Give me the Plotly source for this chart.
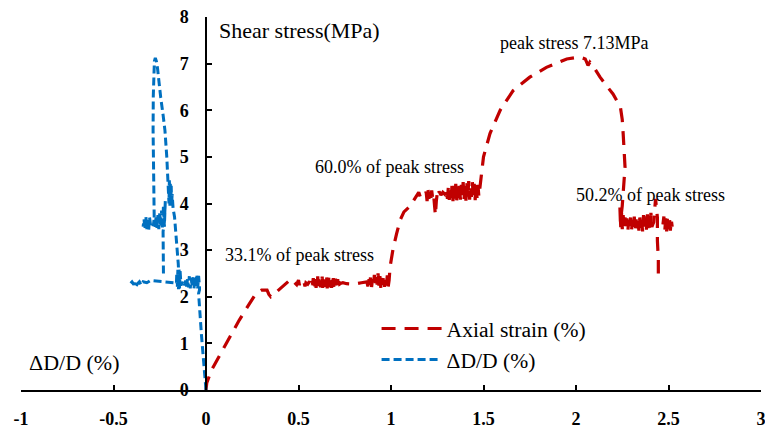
import plotly.graph_objects as go

# ---------------- data ----------------
# Red: shear stress vs axial strain (%), segments joined (None = break)
red_rise1 = [(0, 0), (0.004, 0.15), (0.03, 0.43), (0.07, 0.72), (0.11, 1.00), (0.15, 1.28), (0.18, 1.50),
             (0.23, 1.82), (0.27, 2.07), (0.30, 2.14), (0.33, 2.14), (0.34, 2.05), (0.35, 2.00), (0.38, 2.10),
             (0.42, 2.24), (0.46, 2.38), (0.48, 2.30), (0.49, 2.26)]
red_plateau1 = [(0.50, 2.36), (0.505, 2.25), (0.51, 2.33), (0.52, 2.28), (0.53, 2.31), (0.535, 2.22), (0.54, 2.30),
                (0.55, 2.27), (0.56, 2.33), (0.565, 2.24), (0.57, 2.31), (0.575, 2.26), (0.58, 2.40), (0.583, 2.20),
                (0.586, 2.38), (0.589, 2.22), (0.592, 2.42), (0.595, 2.19), (0.598, 2.36), (0.601, 2.24),
                (0.604, 2.44), (0.607, 2.18), (0.610, 2.37), (0.613, 2.23), (0.616, 2.41), (0.619, 2.20),
                (0.622, 2.35), (0.625, 2.26), (0.628, 2.43), (0.631, 2.19), (0.634, 2.38), (0.637, 2.22),
                (0.640, 2.40), (0.643, 2.21), (0.646, 2.36), (0.649, 2.25), (0.652, 2.44), (0.655, 2.18),
                (0.658, 2.39), (0.661, 2.23), (0.664, 2.41), (0.667, 2.20), (0.670, 2.35), (0.673, 2.27),
                (0.676, 2.42), (0.679, 2.19), (0.682, 2.37), (0.685, 2.24), (0.688, 2.40), (0.691, 2.21),
                (0.694, 2.34), (0.697, 2.26), (0.700, 2.39), (0.703, 2.20), (0.706, 2.36), (0.709, 2.25),
                (0.712, 2.38), (0.715, 2.22), (0.718, 2.33), (0.722, 2.27), (0.730, 2.29), (0.740, 2.30)]
red_link1 = [(0.76, 2.28), (0.80, 2.27), (0.84, 2.30), (0.87, 2.32)]
red_plateau2 = [(0.875, 2.22), (0.88, 2.40), (0.885, 2.25), (0.89, 2.45), (0.895, 2.21), (0.90, 2.38), (0.905, 2.24),
                (0.91, 2.47), (0.915, 2.20), (0.92, 2.42), (0.925, 2.26), (0.93, 2.50), (0.935, 2.22), (0.94, 2.44),
                (0.945, 2.19), (0.95, 2.39), (0.955, 2.25), (0.96, 2.48), (0.965, 2.21), (0.97, 2.41),
                (0.975, 2.24), (0.98, 2.46), (0.985, 2.22), (0.99, 2.36)]
red_rise2 = [(0.995, 2.64), (1.01, 3.00), (1.03, 3.35), (1.05, 3.65), (1.07, 3.82), (1.10, 3.93), (1.12, 4.05),
             (1.14, 4.20), (1.15, 4.24), (1.16, 4.12), (1.18, 4.15)]
red_plateau3 = [(1.19, 4.25), (1.195, 4.05), (1.20, 4.30), (1.205, 4.10), (1.21, 4.22), (1.215, 4.08), (1.22, 4.28),
                (1.225, 4.12), (1.23, 4.20), (1.235, 4.00), (1.24, 3.75), (1.245, 4.05), (1.25, 4.22),
                (1.255, 4.15), (1.26, 4.26), (1.27, 4.18), (1.28, 4.24), (1.29, 4.20), (1.30, 4.30),
                (1.305, 4.10), (1.31, 4.35), (1.315, 4.08), (1.32, 4.32), (1.325, 4.12), (1.33, 4.40),
                (1.335, 4.05), (1.34, 4.38), (1.345, 4.10), (1.35, 4.42), (1.355, 4.06), (1.36, 4.36),
                (1.365, 4.12), (1.37, 4.45), (1.375, 4.08), (1.38, 4.40), (1.385, 4.15), (1.39, 4.46),
                (1.395, 4.10), (1.40, 4.38), (1.405, 4.06), (1.41, 4.44), (1.415, 4.12), (1.42, 4.48),
                (1.425, 4.08), (1.43, 4.40), (1.435, 4.14), (1.44, 4.46), (1.445, 4.10), (1.45, 4.42),
                (1.455, 4.07), (1.46, 4.45), (1.465, 4.12), (1.47, 4.40), (1.475, 4.15), (1.48, 4.35)]
red_rise3 = [(1.49, 4.60), (1.50, 5.00), (1.535, 5.50), (1.59, 6.00), (1.66, 6.42), (1.75, 6.71), (1.84, 6.92),
             (1.95, 7.10), (2.02, 7.14), (2.05, 7.10), (2.065, 6.96), (2.075, 7.03), (2.10, 6.90), (2.13, 6.71),
             (2.17, 6.50), (2.20, 6.35), (2.24, 6.07), (2.25, 5.80), (2.255, 5.50), (2.262, 5.00),
             (2.265, 4.78), (2.26, 4.50), (2.255, 4.20), (2.25, 3.95)]
red_plateau4 = [(2.24, 3.60), (2.237, 3.95), (2.243, 3.40), (2.247, 3.85), (2.25, 3.45), (2.255, 3.75), (2.26, 3.42),
                (2.265, 3.70), (2.27, 3.45), (2.275, 3.68), (2.28, 3.40), (2.285, 3.65), (2.29, 3.44),
                (2.295, 3.70), (2.30, 3.42), (2.305, 3.62), (2.31, 3.46), (2.315, 3.72), (2.32, 3.40),
                (2.325, 3.66), (2.33, 3.45), (2.335, 3.62), (2.34, 3.42), (2.345, 3.70), (2.35, 3.44),
                (2.355, 3.64), (2.36, 3.40), (2.365, 3.75), (2.37, 3.45), (2.375, 3.68), (2.38, 3.40),
                (2.385, 3.85), (2.39, 3.45), (2.395, 3.70), (2.40, 3.42), (2.405, 3.80), (2.41, 3.50)]
red_drop = [(2.42, 3.60), (2.43, 4.10), (2.44, 3.70), (2.44, 3.20), (2.445, 2.80), (2.445, 2.50)]
red_plateau5 = [(2.47, 3.55), (2.475, 3.72), (2.48, 3.42), (2.485, 3.68), (2.49, 3.40), (2.495, 3.75), (2.50, 3.45),
                (2.505, 3.70), (2.51, 3.42), (2.515, 3.65), (2.52, 3.50)]

# Blue: shear stress vs ΔD/D (%)
blue_rise1 = [(0, 0), (-0.005, 0.30), (-0.012, 0.60), (-0.018, 0.86), (-0.025, 1.20), (-0.03, 1.57),
              (-0.035, 1.85), (-0.04, 2.07), (-0.035, 2.15)]
blue_plateau1 = [(-0.035, 2.20), (-0.04, 2.45), (-0.045, 2.18), (-0.05, 2.48), (-0.055, 2.20), (-0.06, 2.42),
                 (-0.065, 2.17), (-0.07, 2.46), (-0.075, 2.22), (-0.08, 2.40), (-0.085, 2.18), (-0.09, 2.44),
                 (-0.095, 2.20), (-0.10, 2.38), (-0.105, 2.22), (-0.11, 2.35), (-0.115, 2.25), (-0.12, 2.30),
                 (-0.125, 2.26), (-0.13, 2.32), (-0.135, 2.24), (-0.14, 2.55), (-0.143, 2.18), (-0.146, 2.62),
                 (-0.149, 2.16), (-0.152, 2.58), (-0.155, 2.20), (-0.158, 2.50), (-0.16, 2.28)]
blue_tail = [(-0.17, 2.30), (-0.20, 2.31), (-0.24, 2.32), (-0.28, 2.33), (-0.30, 2.35), (-0.32, 2.30),
             (-0.34, 2.32), (-0.35, 2.25), (-0.36, 2.32), (-0.37, 2.28), (-0.38, 2.22), (-0.385, 2.30),
             (-0.39, 2.26), (-0.40, 2.32), (-0.41, 2.28)]
blue_cluster2 = [(-0.23, 2.50), (-0.23, 3.00), (-0.232, 3.40), (-0.225, 3.60), (-0.22, 4.05), (-0.225, 3.50),
                 (-0.23, 3.95), (-0.235, 3.45), (-0.24, 3.85), (-0.245, 3.50), (-0.25, 3.80), (-0.255, 3.45),
                 (-0.26, 3.75), (-0.265, 3.48), (-0.27, 3.70), (-0.275, 3.50), (-0.28, 3.68), (-0.285, 3.52),
                 (-0.29, 3.60), (-0.30, 3.55), (-0.305, 3.70), (-0.31, 3.42), (-0.315, 3.68), (-0.32, 3.45),
                 (-0.325, 3.72), (-0.33, 3.44), (-0.335, 3.66), (-0.34, 3.50)]
blue_peak = [(-0.28, 3.70), (-0.282, 4.14), (-0.285, 4.80), (-0.286, 5.57), (-0.285, 6.30), (-0.283, 6.80),
             (-0.279, 7.05), (-0.274, 7.12), (-0.268, 7.05), (-0.262, 6.90), (-0.255, 6.60), (-0.245, 6.28),
             (-0.232, 5.90), (-0.222, 5.57), (-0.212, 5.00), (-0.208, 4.60)]
blue_cluster3 = [(-0.205, 4.45), (-0.20, 4.00), (-0.198, 4.50), (-0.195, 3.95), (-0.193, 4.42), (-0.19, 4.05),
                 (-0.188, 4.38), (-0.186, 3.98), (-0.183, 4.20), (-0.178, 3.90), (-0.17, 3.71), (-0.163, 3.40),
                 (-0.16, 3.14), (-0.155, 2.90), (-0.15, 2.71), (-0.148, 2.55)]

x_tick_vals = [-1, -0.5, 0, 0.5, 1, 1.5, 2, 2.5, 3]
x_tick_text = ["-1", "-0.5", "0", "0.5", "1", "1.5", "2", "2.5", "3"]
y_tick_vals = [0, 1, 2, 3, 4, 5, 6, 7, 8]

notes = [
    ("33.1% of peak stress", 0.508, 2.89),
    ("60.0% of peak stress", 0.99, 4.78),
    ("peak stress 7.13MPa", 1.99, 7.45),
    ("50.2% of peak stress", 2.40, 4.18),
]


def join(*segs):
    xs, ys = [], []
    for s in segs:
        if s is None:
            xs.append(None); ys.append(None)
            continue
        for a, b in s:
            xs.append(a); ys.append(b)
    return xs, ys


red_x, red_y = join(red_rise1, red_plateau1, red_link1, red_plateau2, red_rise2, red_plateau3,
                    red_rise3, red_plateau4, red_drop, None, red_plateau5)
blue_x, blue_y = join(blue_rise1, blue_plateau1, blue_tail, None, blue_cluster2, None,
                      blue_peak, blue_cluster3)

SERIF = "Liberation Serif"
RED = "#C00000"
BLUE = "#0070C0"

fig = go.Figure()
fig.add_trace(go.Scatter(x=red_x, y=red_y, mode="lines", name="Axial strain (%)",
                         line=dict(color=RED, width=3.2, dash="14px,9px"), connectgaps=False))
fig.add_trace(go.Scatter(x=blue_x, y=blue_y, mode="lines", name="ΔD/D (%)",
                         line=dict(color=BLUE, width=3, dash="8px,4px"), connectgaps=False))

annotations = []
for txt, ax, ay in notes:
    annotations.append(dict(x=ax, y=ay, text=txt, showarrow=False, xanchor="center", yanchor="middle",
                            font=dict(family=SERIF, size=18, color="black")))
annotations.append(dict(x=0.06, y=7.71, text="Shear stress(MPa)", showarrow=False, xanchor="left",
                        yanchor="middle", font=dict(family=SERIF, size=22, color="black")))
annotations.append(dict(x=-0.97, y=0.58, text="ΔD/D (%)", showarrow=False, xanchor="left",
                        yanchor="middle", font=dict(family=SERIF, size=22, color="black")))
annotations.append(dict(x=3.03, y=0.60, text="Axial strain %", showarrow=False, xanchor="right",
                        yanchor="middle", font=dict(family=SERIF, size=22, color="black")))

# page body has an 8px margin, so the figure is sized to fit the 773x432 window
fig.update_layout(
    width=765, height=424,
    margin=dict(l=13, r=12, t=9, b=42, autoexpand=False),
    paper_bgcolor="white", plot_bgcolor="white",
    font=dict(family=SERIF, color="black"),
    annotations=annotations,
    showlegend=True,
    legend=dict(x=0.4805, y=0.22, xanchor="left", yanchor="top", bgcolor="rgba(0,0,0,0)",
                font=dict(family=SERIF, size=21.6, color="black"), itemwidth=60),
    xaxis=dict(range=[-1, 3], tickvals=x_tick_vals, ticktext=x_tick_text, showgrid=False, zeroline=False,
               automargin=False, ticklabeloverflow="allow",
               showline=True, linecolor="black", linewidth=1.5, ticks="inside", ticklen=5, tickwidth=1.5,
               tickcolor="black", tickfont=dict(family=SERIF, size=18, color="black", weight="bold"),
               ticklabelstandoff=12),
    yaxis=dict(range=[0, 8], tickvals=y_tick_vals, showgrid=False, zeroline=False, anchor="free", position=0.25,
               automargin=False, ticklabeloverflow="allow",
               showline=True, linecolor="black", linewidth=1.5, ticks="inside", ticklen=5, tickwidth=1.5,
               tickcolor="black", tickfont=dict(family=SERIF, size=18, color="black", weight="bold"),
               ticklabelstandoff=13),
)

fig.write_html("out.html")
